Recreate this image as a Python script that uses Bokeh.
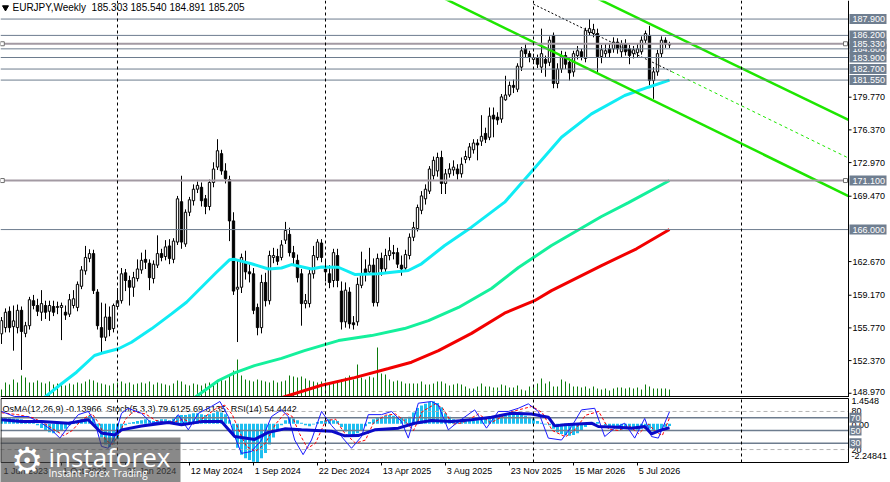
from bokeh.plotting import figure
from bokeh.models import Range1d, Span
from bokeh.layouts import column
from bokeh.embed import file_html
from bokeh.resources import INLINE
from bokeh.core.properties import value

FONT = "Liberation Sans"

# ---------------- data (weekly bars, index 0 = 18 Jun 2023) ----------------
opens = [155.15, 155.8, 157.5, 155.9, 155.8, 157.6, 155.2, 156.0, 158.6, 158.1,
         157.4, 158.1, 157.5, 158.0, 157.9, 157.9, 157.4, 157.2, 158.1, 157.9,
         160.1, 161.7, 163.0, 163.5, 159.5, 155.8, 154.8, 156.9, 155.7, 158.0,
         158.6, 161.5, 160.7, 160.0, 160.9, 161.8, 162.9, 162.5, 160.9, 162.3,
         163.5, 163.2, 164.3, 162.9, 164.7, 168.9, 164.5, 167.8, 169.0, 170.2,
         170.4, 169.2, 168.4, 170.9, 172.5, 173.9, 172.1, 171.2, 166.9, 159.8,
         160.0, 162.6, 161.6, 161.4, 157.9, 155.8, 160.5, 158.6, 163.1, 163.2,
         163.1, 164.9, 165.5, 163.6, 162.8, 161.4, 158.3, 158.3, 161.4, 163.1,
         164.6, 161.9, 161.4, 160.7, 163.3, 159.6, 156.4, 159.5, 156.3, 156.4,
         160.2, 161.9, 161.6, 162.3, 158.4, 163.0, 161.9, 163.3, 163.6, 163.6,
         162.3, 162.0, 163.3, 165.2, 166.1, 168.0, 169.2, 170.0, 171.6, 172.1,
         173.5, 170.8, 171.8, 172.2, 172.3, 171.8, 173.3, 173.5, 174.3, 175.0,
         175.2, 176.0, 175.6, 177.9, 177.7, 177.5, 179.5, 180.0, 181.0, 180.6,
         182.9, 184.8, 184.3, 183.7, 183.8, 182.9, 183.7, 183.4, 186.2, 181.2,
         182.7, 184.1, 183.4, 182.4, 184.1, 184.5, 183.8, 186.5, 186.4, 186.4,
         184.0, 184.3, 184.8, 184.8, 185.5, 184.5, 185.3, 184.8, 184.3, 184.4,
         184.5, 185.7, 186.2, 181.5, 182.4, 184.3, 185.7, 185.303]
highs = [156.9, 157.8, 158.0, 158.1, 158.2, 158.0, 156.4, 159.0, 159.2, 158.8,
         159.7, 158.6, 158.6, 158.6, 158.5, 158.4, 158.1, 159.3, 159.7, 160.6,
         162.2, 164.3, 163.95, 163.9, 159.8, 158.4, 158.3, 158.0, 158.3, 159.9,
         162.0, 161.9, 161.2, 161.6, 162.9, 163.6, 163.9, 162.9, 162.8, 165.4,
         164.0, 164.9, 165.0, 165.1, 169.5, 171.6, 168.1, 169.4, 170.7, 171.0,
         170.9, 169.6, 171.2, 173.0, 175.4, 174.3, 172.9, 171.6, 167.8, 162.9,
         163.5, 163.8, 162.5, 162.0, 158.3, 161.3, 161.5, 163.8, 164.1, 164.0,
         164.9, 166.8, 166.2, 164.3, 163.4, 161.9, 159.3, 161.9, 164.3, 165.0,
         165.0, 162.9, 162.3, 164.0, 164.0, 160.6, 160.5, 160.0, 157.0, 161.0,
         163.7, 162.9, 164.1, 163.0, 163.5, 163.6, 164.0, 165.2, 164.4, 164.1,
         163.3, 163.9, 165.6, 166.8, 168.6, 170.0, 170.7, 172.6, 173.6, 174.0,
         174.2, 172.3, 172.9, 173.2, 172.8, 173.5, 174.2, 175.0, 175.4, 175.4,
         177.9, 176.6, 178.7, 178.7, 178.2, 180.1, 182.0, 181.4, 181.6, 183.3,
         185.0, 185.4, 184.6, 184.3, 184.2, 186.9, 184.1, 186.1, 186.5, 183.3,
         184.6, 184.5, 183.8, 184.6, 185.1, 184.8, 187.0, 187.9, 187.4, 186.9,
         185.2, 185.4, 185.3, 186.0, 185.9, 185.7, 185.8, 185.2, 185.1, 185.3,
         186.1, 186.7, 187.2, 182.9, 184.7, 186.1, 186.0, 185.540]
lows = [154.1, 155.3, 155.3, 153.4, 155.2, 151.4, 154.8, 155.6, 157.7, 157.0,
        156.5, 156.7, 156.5, 157.0, 157.2, 154.5, 156.6, 156.9, 157.8, 157.5,
        159.8, 161.3, 162.6, 159.3, 155.6, 153.1, 154.4, 154.9, 155.3, 157.7,
        158.3, 159.6, 158.1, 159.0, 160.6, 161.4, 161.9, 159.7, 160.4, 162.0,
        162.7, 162.8, 162.4, 162.5, 164.4, 164.0, 164.2, 167.4, 168.5, 169.8,
        168.4, 167.6, 168.0, 170.4, 172.2, 171.7, 170.8, 164.8, 159.2, 154.3,
        159.4, 160.8, 160.5, 157.2, 155.0, 155.2, 158.0, 158.2, 162.5, 162.3,
        162.8, 164.5, 163.2, 162.3, 160.5, 156.0, 157.8, 157.9, 160.9, 162.8,
        162.6, 160.6, 159.9, 160.0, 160.0, 155.6, 155.8, 155.7, 155.6, 156.0,
        159.9, 160.6, 161.3, 158.0, 158.0, 161.2, 161.4, 162.8, 162.9, 162.0,
        161.2, 161.6, 162.9, 164.8, 165.8, 167.6, 168.6, 169.7, 171.2, 171.5,
        169.7, 169.7, 171.4, 171.6, 171.2, 171.4, 172.9, 173.2, 173.9, 173.2,
        174.7, 175.0, 175.3, 175.6, 176.9, 177.1, 179.4, 179.8, 180.2, 180.3,
        182.5, 183.9, 183.4, 183.2, 182.8, 182.3, 181.9, 183.0, 180.7, 180.7,
        182.3, 182.7, 181.5, 181.9, 183.7, 183.6, 183.4, 186.2, 186.0, 182.4,
        183.3, 183.9, 183.9, 184.4, 184.3, 183.9, 184.1, 183.2, 183.8, 183.9,
        184.2, 185.3, 181.0, 179.6, 182.0, 183.9, 184.9, 184.891]
closes = [156.53, 157.4, 155.8, 156.5, 157.6, 155.4, 156.0, 158.7, 158.1, 157.5,
          158.3, 157.4, 158.1, 157.4, 158.0, 158.1, 157.1, 158.7, 158.8, 160.3,
          161.8, 163.1, 163.5, 159.65, 156.0, 154.8, 156.9, 155.6, 158.1, 158.6,
          161.4, 160.7, 160.0, 161.0, 161.9, 162.8, 162.6, 161.0, 162.4, 163.5,
          163.1, 164.2, 163.0, 164.8, 169.2, 164.7, 167.8, 169.1, 170.2, 170.6,
          169.0, 168.4, 170.9, 172.3, 174.2, 172.1, 171.3, 166.9, 159.6, 160.0,
          163.1, 161.6, 161.4, 157.6, 155.8, 160.5, 158.6, 163.3, 163.3, 162.7,
          164.4, 165.9, 163.6, 163.1, 161.0, 158.3, 158.6, 161.4, 163.3, 164.7,
          163.1, 161.6, 160.5, 163.6, 160.7, 156.4, 159.7, 156.2, 156.1, 160.3,
          161.4, 161.4, 162.3, 158.4, 163.0, 161.9, 163.3, 163.8, 163.5, 162.4,
          161.9, 163.4, 165.2, 166.2, 168.3, 169.5, 170.2, 172.3, 173.2, 173.5,
          170.8, 171.8, 172.3, 172.5, 171.8, 172.8, 173.6, 174.6, 175.0, 174.8,
          175.7, 175.4, 177.8, 177.5, 177.4, 179.8, 180.0, 181.0, 180.8, 183.0,
          184.6, 184.3, 183.9, 183.9, 183.2, 184.3, 183.3, 185.7, 181.2, 182.7,
          184.1, 183.2, 182.3, 184.3, 184.6, 184.0, 186.7, 186.9, 186.8, 184.0,
          184.7, 184.6, 184.4, 185.5, 184.8, 185.3, 184.5, 184.1, 184.7, 184.8,
          185.7, 186.4, 181.5, 182.4, 184.3, 185.7, 185.3, 185.205]
# tick volume (hundreds of ticks)
volumes = [8, 15, 13, 18, 15, 22, 20, 15, 15, 17,
           15, 14, 16, 13, 14, 15, 12, 14, 13, 15,
           14, 16, 18, 17, 15, 14, 13, 12, 14, 15,
           16, 14, 15, 13, 14, 15, 14, 16, 13, 15,
           14, 13, 12, 14, 17, 16, 13, 12, 14, 13,
           12, 14, 15, 13, 16, 18, 17, 23, 27, 38,
           22, 18, 17, 16, 18, 17, 16, 15, 17, 15,
           16, 17, 22, 21, 20, 21, 19, 17, 16, 15,
           16, 15, 14, 16, 17, 18, 20, 22, 18, 33,
           20, 18, 21, 20, 50, 24, 23, 18, 16, 17,
           16, 14, 14, 14, 14, 16, 13, 13, 14, 16,
           16, 14, 12, 13, 14, 13, 11, 9, 9, 11,
           14, 11, 11, 10, 10, 13, 12, 10, 10, 12,
           8, 7, 11, 12, 14, 19, 14, 16, 11, 11,
           18, 16, 14, 11, 11, 10, 11, 9, 11, 9,
           8, 9, 7, 9, 10, 10, 9, 10, 9, 10,
           8, 13, 11, 9, 9, 9, 9, 8]

# moving averages read at sampled bars
ma50_x = [8, 10.75, 15, 18.75, 23.25, 25, 29.25, 32.5, 37.5, 42.5, 46.25, 50, 53.75, 57,
          58.25, 62.5, 66.75, 70, 72.5, 77.5, 80, 84.2, 88.3, 94.2, 101.7, 105, 110.8,
          117.5, 125.8, 133.3, 140, 147.5, 155.8, 161.7, 167]
ma50_y = [148.0, 148.53, 149.96, 151.16, 152.9, 153.13, 153.6, 154.28, 155.67, 157.23,
          158.44, 160.0, 161.56, 162.85, 162.9, 162.44, 161.9, 162.0, 162.36, 161.9,
          162.1, 162.08, 161.33, 161.4, 161.74, 162.44, 164.34, 166.25, 168.85, 172.4,
          175.6, 178.04, 179.95, 180.81, 181.55]
ma100_x = [46, 48.25, 54.25, 58.25, 63.25, 70, 75.75, 84.25, 92.5, 100.75, 106.75, 114.25,
           122.5, 129.25, 137.5, 150, 156.75, 167]
ma100_y = [148.2, 148.5, 150.3, 151.1, 151.85, 152.6, 153.4, 154.45, 154.97, 155.7, 156.53,
           157.9, 159.87, 162.05, 164.34, 167.36, 168.8, 171.1]
ma200_x = [68, 70, 80, 88.25, 96.75, 102.5, 109.25, 117.5, 125.75, 133.25, 137.5, 150,
           158.75, 167]
ma200_y = [148.3, 148.5, 149.8, 150.6, 151.55, 152.2, 153.4, 155.2, 157.3, 158.6, 159.65,
           162.25, 164.0, 166.0]

# price channel (bar, price) end points
chan_upper_x = [145, 211.75]
chan_upper_y = [190.84, 177.40]
chan_lower_x = [108, 211.75]
chan_lower_y = [190.59, 169.49]
chan_mid_x = [133, 167.5]
chan_mid_y = [189.45, 182.44]
chan_mid_ext_x = [167.5, 211.75]
chan_mid_ext_y = [182.44, 173.44]

# horizontal levels with price boxes (drawn in this order)
box_levels = [184.8, 187.9, 186.2, 185.33, 183.9, 182.7, 181.55, 171.1, 166.0]
marked_levels = [185.33, 171.1]
marker_bars = [0.2, 211.0]
price_ticks = [179.77, 176.37, 172.97, 169.47, 162.67, 159.17, 155.77, 152.37]
price_ticks_low = [148.97]

# indicators
osma = [0.30, 0.33, 0.35, 0.30, 0.28, 0.25, 0.20, 0.15, 0.10, -0.10,
        -0.25, -0.40, -0.50, -0.55, -0.50, -0.40, -0.30, -0.10, 0.05, 0.15,
        0.25, 0.35, 0.45, 0.30, -0.30, -0.80, -1.20, -1.35, -1.20, -0.90,
        -0.40, -0.10, 0.05, 0.10, 0.15, 0.20, 0.25, 0.20, 0.15, 0.20,
        0.25, 0.25, 0.20, 0.30, 0.45, 0.50, 0.50, 0.55, 0.60, 0.60,
        0.55, 0.50, 0.55, 0.60, 0.70, 0.65, 0.55, 0.20, -0.60, -1.40,
        -1.80, -2.00, -2.10, -2.20, -2.25, -2.00, -1.70, -1.20, -0.80, -0.40,
        -0.10, 0.20, 0.35, 0.30, 0.20, 0.05, -0.10, -0.15, -0.05, 0.10,
        0.15, 0.20, 0.25, 0.20, 0.15, -0.20, -0.45, -0.60, -0.65, -0.55,
        -0.40, -0.15, 0.10, 0.25, 0.35, 0.40, 0.45, 0.50, 0.45, 0.40,
        0.35, 0.30, 0.40, 0.65, 0.90, 1.05, 1.15, 1.25, 1.30, 1.20,
        0.95, 0.60, 0.40, 0.25, 0.20, 0.25, 0.20, 0.15, 0.15, 0.20,
        0.25, 0.30, 0.35, 0.40, 0.45, 0.50, 0.50, 0.55, 0.60, 0.55,
        0.50, 0.45, 0.40, 0.30, 0.15, 0.05, -0.05, -0.10, -0.30, -0.50,
        -0.60, -0.65, -0.70, -0.65, -0.55, -0.40, -0.20, -0.05, 0.05, 0.10,
        0.00, -0.10, -0.20, -0.25, -0.30, -0.35, -0.30, -0.25, -0.30, -0.35,
        -0.30, -0.20, -0.30, -0.45, -0.40, -0.30, -0.20, -0.14]
stoch_x = [0, 3.3, 6.7, 10, 12.5, 14.6, 16.7, 19.2, 21.7, 23.3, 25, 26.7, 28.3, 30, 31.7,
           35, 37.5, 40, 42.5, 44.2, 46.7, 49.2, 52.5, 54.6, 56.7, 58.3, 60, 62.5, 65,
           67.5, 70, 71.7, 73.3, 75.4, 77.5, 80, 82.5, 85, 87.5, 90, 91.7, 95, 97.5, 100,
           101.7, 104.2, 107.5, 109.2, 111.7, 114.2, 118.3, 121.25, 124.2, 126.7, 129.2,
           131.7, 134.2, 136.7, 140, 142.5, 145, 148.3, 150.8, 153.3, 155.8, 158.3, 160.8,
           162.5, 164.2, 167]
stoch_main = [80, 72, 72, 61.5, 51, 38, 56, 75, 80, 64, 25, 22, 40.5, 77, 85,
              77, 61.5, 64, 61.5, 75, 51, 77, 88, 95.7, 72, 40.5, 14, 17, 35,
              72, 82.5, 72, 35, 12, 35, 80, 58, 40.5, 22, 40.5, 75, 75, 80, 64,
              38, 93, 95.7, 90, 51, 64, 82.5, 53.7, 80, 80, 85,
              92, 80, 38, 35, 56, 82.5, 85, 40.5, 53.7, 61.5, 38, 69,
              40.5, 38, 79.6]
signal_x = [0, 4, 8, 11, 13.5, 15.6, 17.7, 20.2, 22.7, 24.5, 26, 27.7, 29.5, 31, 33, 36,
            38.5, 41, 43.5, 45.5, 48, 50.5, 53.5, 55.8, 57.7, 59.5, 61.2, 63.5, 66, 68.5,
            71, 72.7, 74.5, 76.5, 78.5, 81, 83.5, 85.5, 88.5, 91, 93, 96, 98.5, 101, 103,
            105.2, 108.5, 110.3, 112.8, 115.2, 119.3, 122.3, 125.2, 127.7, 130.2, 132.7,
            135.2, 137.7, 141, 143.5, 146, 149.3, 151.8, 154.3, 156.8, 159.3, 161.8, 163.5,
            165.2, 167]
stoch_signal = [78, 75, 70, 60, 50, 42, 50, 68, 76, 60, 35, 28, 45, 68, 80, 76,
                66, 63, 64, 68, 60, 70, 84, 90, 75, 48, 25, 17, 30, 60,
                78, 72, 45, 22, 30, 65, 68, 48, 30, 35, 62, 74, 76, 64, 50,
                80, 92, 85, 60, 62, 76, 62, 72, 80, 84, 88,
                78, 50, 40, 52, 74, 80, 52, 50, 58, 45, 60, 48,
                42, 69.8]
rsi_x = [0, 5, 10, 16.7, 21.7, 25, 28.3, 30, 35, 41.7, 45, 50, 55, 58.3, 63.3, 66.7, 70.8,
         75, 82.5, 85.8, 89.2, 93.3, 99.2, 103.3, 107.5, 112.5, 117.5, 122.5, 127.5, 132.5,
         136.7, 138.3, 140.8, 147.5, 149.2, 154.2, 157.5, 160.8, 162.5, 165, 167]
rsi_vals = [66.8, 64, 64, 61.5, 67, 46, 43, 51, 57, 62.6, 59, 64, 64, 40.5, 36, 47, 52.6,
            51, 49, 41.6, 42, 51, 53.7, 61.5, 65.7, 64, 66.8, 71, 77.3, 76,
            71, 57.3, 59, 61.5, 56.3, 55.2, 53.7, 56.3, 44.7, 51, 54.4]
ind_levels = [70, 50, 30]
ind_dashed = [80, 20]
ind_scale_pos = [95.7, 80, 59.4, 20, 9.1]
ind_scale_labels = ["1.4548", "80", "0.00", "20", "-2.24841"]

date_tick_bars = [0.2, 15, 31, 47, 63, 79, 95, 111, 127, 143, 159]
date_tick_labels = ["1 Jun 2023", "1 Oct 2023", "21 Jan 2024", "12 May 2024", "1 Sep 2024",
                    "22 Dec 2024", "13 Apr 2025", "3 Aug 2025", "23 Nov 2025",
                    "15 Mar 2026", "5 Jul 2026"]
year_sep_bars = [29, 81, 133, 185]

NB = "\u00a0"
header_main = "EURJPY,Weekly" + NB + NB + "185.303 185.540 184.891 185.205"
header_ind = ("OsMA(12,26,9) -0.13966" + NB + NB + "Stoch(5,3,3) 79.6125 69.8135" + NB + NB
              + "RSI(14) 54.4442")

# ---------------- styling / geometry ----------------
LEVEL_C = "#6d7c8e"
BOX_C = "#6f7e90"
L, R = -0.25, 211.75          # chart area in bars; right of R is the price scale
XEND = 222.25
P_LO, P_HI = 148.53, 189.83
LABEL_X = 212.75
FS = value("9px")

# ---------------- main price panel ----------------
XR = Range1d(L, XEND)
p = figure(width=890, height=397, x_range=XR, y_range=Range1d(P_LO, P_HI),
           output_backend="svg", toolbar_location=None, x_axis_location=None,
           y_axis_location=None, min_border=0)
p.min_border_left = p.min_border_right = p.min_border_top = p.min_border_bottom = 0
p.xgrid.visible = False
p.ygrid.visible = False
p.outline_line_color = None
p.background_fill_color = "white"
p.extra_y_ranges = {"vol": Range1d(0, 397)}

idx = list(range(len(closes)))
tops = [max(o, c) for o, c in zip(opens, closes)]
bots = [min(o, c) for o, c in zip(opens, closes)]
fills = ["white" if c >= o else "black" for o, c in zip(opens, closes)]

p.segment(x0=idx, y0=lows, x1=idx, y1=highs, line_color="black", line_width=1)
p.vbar(x=idx, top=tops, bottom=bots, width=0.58, fill_color=fills, line_color="black", line_width=1)
p.segment(x0=idx, y0=[0] * len(idx), x1=idx, y1=volumes, y_range_name="vol",
          line_color="#0b7a0b", line_width=1)

p.line(ma200_x, ma200_y, line_color="#f20000", line_width=3)
p.line(ma100_x, ma100_y, line_color="#14f09c", line_width=3)
p.line(ma50_x, ma50_y, line_color="#10ecf4", line_width=3)

p.line(chan_upper_x, chan_upper_y, line_color="#1ee600", line_width=2.5)
p.line(chan_lower_x, chan_lower_y, line_color="#1ee600", line_width=2.5)
p.line(chan_mid_x, chan_mid_y, line_color="black", line_width=1, line_dash="2 2")
p.line(chan_mid_ext_x, chan_mid_ext_y, line_color="#1ee600", line_width=1, line_dash="3 3")

for lv in box_levels:
    if lv in marked_levels:
        p.segment(x0=[L], x1=[R], y0=[lv], y1=[lv], line_color="#a39aa3", line_width=2)
    else:
        p.segment(x0=[L], x1=[R], y0=[lv], y1=[lv], line_color=LEVEL_C, line_width=1)
for b in year_sep_bars:
    p.add_layout(Span(location=b, dimension="height", line_color="black", line_width=1,
                      line_dash="3 3"))
for lv in marked_levels:
    p.scatter(marker_bars, [lv, lv], marker="square", size=4, fill_color="white",
              line_color="#707070")

# frame lines: price-scale border and bottom edge
p.segment(x0=[R], x1=[R], y0=[P_LO], y1=[P_HI], line_color="black", line_width=1)
p.segment(x0=[L], x1=[R], y0=[P_LO + 0.1], y1=[P_LO + 0.1], line_color="black", line_width=1)

# price scale
all_ticks = price_ticks + price_ticks_low
p.segment(x0=[R] * len(all_ticks), x1=[R + 0.75] * len(all_ticks), y0=all_ticks, y1=all_ticks,
          line_color="black", line_width=1)
p.text(x=[LABEL_X] * len(price_ticks), y=price_ticks, text=[f"{v:.3f}" for v in price_ticks],
       text_font=value(FONT), text_font_size=FS, text_color="black", text_baseline="middle")
p.text(x=[LABEL_X], y=price_ticks_low, text=[f"{v:.3f}" for v in price_ticks_low],
       text_font=value(FONT), text_font_size=FS, text_color="black", text_baseline="middle",
       y_offset=-1)
for lv in box_levels:
    p.rect(x=[216.625], y=[lv], width=37, height=10, width_units="screen", height_units="screen",
           fill_color=BOX_C, line_color=None)
    p.text(x=[LABEL_X], y=[lv], text=[f"{lv:.3f}"], text_font=value(FONT),
           text_font_size=FS, text_color="white", text_baseline="middle")

# header
p.scatter([1.0], [189.10], marker="inverted_triangle", size=6, fill_color="black", line_color="black")
p.text(x=[2.75], y=[189.10], text=[header_main], text_font=value(FONT),
       text_font_size=value("10px"), text_color="black", text_baseline="middle")

# ---------------- indicator panel ----------------
p2 = figure(width=890, height=85, x_range=XR, y_range=Range1d(-31.9, 101.98),
            output_backend="svg", toolbar_location=None, x_axis_location=None,
            y_axis_location=None, min_border=0)
p2.min_border_left = p2.min_border_right = p2.min_border_top = p2.min_border_bottom = 0
p2.xgrid.visible = False
p2.ygrid.visible = False
p2.outline_line_color = None
p2.extra_y_ranges = {"osma": Range1d(-3.4054, 1.5127)}

p2.text(x=[0.25], y=[83.1], text=[header_ind], text_font=value(FONT), text_font_size=value("9px"),
        text_baseline="middle", text_color="black")
p2.vbar(x=idx, top=osma, bottom=0, width=0.75, y_range_name="osma",
        fill_color="#1ebff0", line_color=None)
for lv in ind_dashed:
    p2.segment(x0=[L], x1=[R], y0=[lv], y1=[lv], line_color="#b4b4b4", line_width=1,
               line_dash="4 3")
for lv in ind_levels:
    p2.segment(x0=[L], x1=[R], y0=[lv], y1=[lv], line_color=LEVEL_C, line_width=1.5)
p2.line(signal_x, stoch_signal, line_color="#ff0000", line_width=1, line_dash="3 2")
p2.line(stoch_x, stoch_main, line_color="#1a1aff", line_width=1)
p2.line(rsi_x, rsi_vals, line_color="#0a0ac8", line_width=3)
p2.segment(x0=year_sep_bars, x1=year_sep_bars, y0=[-0.4] * 4, y1=[100.4] * 4,
           line_color="black", line_width=1, line_dash="3 3")
# panel frame
p2.quad(left=[L + 0.12], right=[R], bottom=[-0.4], top=[100.4], fill_color=None,
        line_color="black", line_width=1)

# indicator scale
p2.text(x=[212.5] * len(ind_scale_pos), y=ind_scale_pos, text=ind_scale_labels,
        text_font=value(FONT), text_font_size=FS, text_color="black", text_baseline="middle")
for lv in ind_levels:
    p2.rect(x=[213.5], y=[lv], width=12, height=10, width_units="screen", height_units="screen",
            fill_color=BOX_C, line_color=None)
    p2.text(x=[213.5], y=[lv], text=[str(lv)], text_font=value(FONT), text_font_size=FS,
            text_color="white", text_baseline="middle", text_align="center")

# date scale
p2.segment(x0=date_tick_bars[1:], x1=date_tick_bars[1:], y0=[-0.4] * 10, y1=[-5.1] * 10,
           line_color="black", line_width=1)
p2.text(x=[b + 0.3 for b in date_tick_bars], y=[-13.0] * len(date_tick_bars), text=date_tick_labels,
        text_font=value(FONT), text_font_size=FS, text_color="black", text_baseline="middle",
        text_align="left")

# watermark
p2.quad(left=[-1], right=[44.75], bottom=[-40], top=[39.0], fill_color="#4a4a4a", fill_alpha=0.65,
        line_color=None)
p2.text(x=[6.4], y=[3.0], text=["\u2699"], text_font=value("DejaVu Sans"),
        text_font_size=value("36px"), text_color="white", text_align="center",
        text_baseline="middle")
p2.text(x=[11.75], y=[9.0], text=["instaforex"], text_font=value("Open Sans"),
        text_font_size=value("26px"), text_color="white", text_baseline="middle")
p2.text(x=[11.75], y=[-17.7], text=["Instant Forex Trading"], text_font=value("Open Sans"),
        text_font_size=value("10px"), text_color="white", text_baseline="middle")

layout = column(p, p2, spacing=0)
open("out.html", "w").write(file_html(layout, INLINE))
